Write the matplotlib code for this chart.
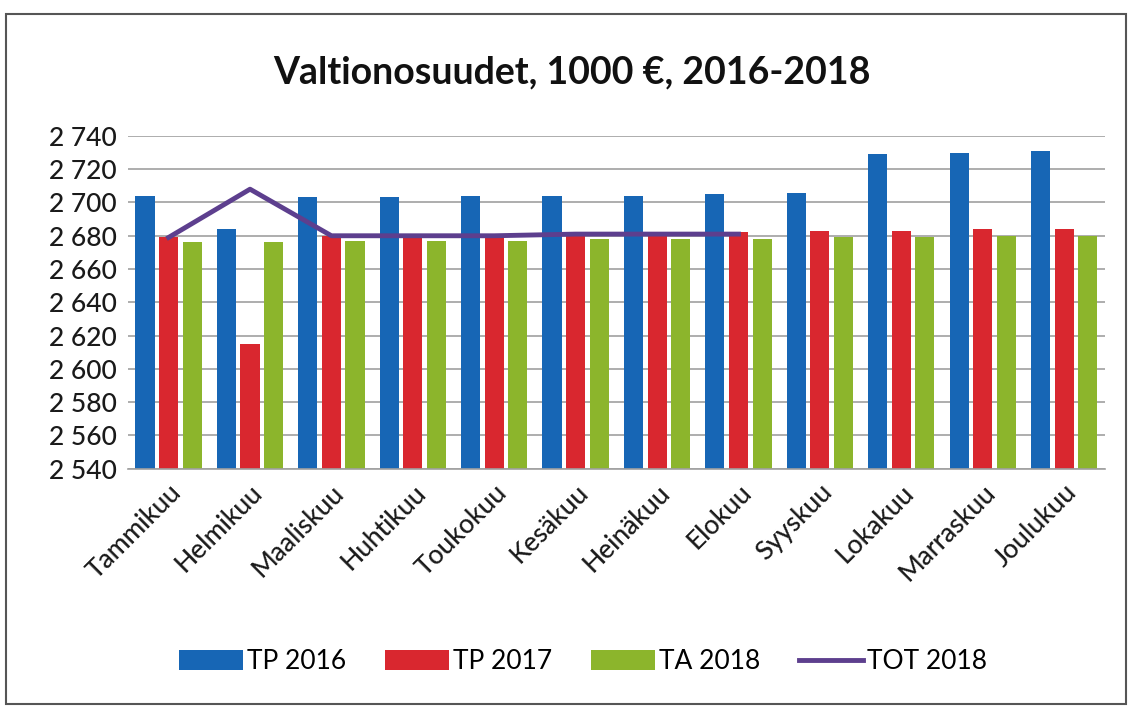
import numpy as np
import matplotlib.pyplot as plt
from matplotlib.patches import Rectangle

months = ['Tammikuu', 'Helmikuu', 'Maaliskuu', 'Huhtikuu', 'Toukokuu', 'Kesäkuu',
          'Heinäkuu', 'Elokuu', 'Syyskuu', 'Lokakuu', 'Marraskuu', 'Joulukuu']
tp2016 = [2704, 2684, 2703, 2703, 2704, 2704, 2704, 2705, 2706, 2729, 2730, 2731]
tp2017 = [2679, 2615, 2680, 2680, 2680, 2681, 2681, 2682, 2683, 2683, 2684, 2684]
ta2018 = [2676, 2676, 2677, 2677, 2677, 2678, 2678, 2678, 2679, 2679, 2680, 2680]
tot2018 = [2679, 2708, 2680, 2680, 2680, 2681, 2681, 2681]
yticks = np.arange(2540, 2741, 20)

plt.rcParams['font.family'] = ['Lato', 'DejaVu Sans']

fig = plt.figure(figsize=(11.32, 7.08), dpi=100)
fig.patches.append(Rectangle((0.005, 0.005), 0.99, 0.975, transform=fig.transFigure,
                             fill=False, edgecolor='#555555', linewidth=1.5))
ax = fig.add_axes([0.113, 0.338, 0.863, 0.47])

x = np.arange(len(months))
w = 0.235
step = 0.29
b1 = ax.bar(x - step, np.array(tp2016) - 2540, w, bottom=2540, color='#1766b5', label='TP 2016', zorder=2)
b2 = ax.bar(x, np.array(tp2017) - 2540, w, bottom=2540, color='#d9272f', label='TP 2017', zorder=2)
b3 = ax.bar(x + step, np.array(ta2018) - 2540, w, bottom=2540, color='#8cb52c', label='TA 2018', zorder=2)
l1, = ax.plot(x[:len(tot2018)], tot2018, color='#5d3f8e', linewidth=3.5, label='TOT 2018', zorder=3)

ax.set_xlim(-0.5, len(months) - 0.5)
ax.set_ylim(2540, 2740)
ax.set_yticks(yticks)
ax.set_yticklabels([f'{v // 1000} {v % 1000:03d}' for v in yticks], fontsize=19,
                   color='#1a1a1a', fontweight='medium')
ax.set_xticks(x)
ax.set_xticklabels(months, rotation=45, ha='right', rotation_mode='anchor', fontsize=19,
                   color='#1a1a1a', fontweight='medium')
ax.tick_params(length=0, pad=8)
ax.yaxis.grid(True, color='#a0a0a0', linewidth=1.2, zorder=0)
ax.set_axisbelow(True)
for s in ['top', 'right', 'left']:
    ax.spines[s].set_visible(False)
ax.spines['bottom'].set_color('#a0a0a0')
ax.spines['bottom'].set_linewidth(1.2)

fig.text(0.505, 0.898, 'Valtionosuudet, 1000 €, 2016-2018', ha='center', va='center',
         fontsize=27, fontweight='bold', color='#111111')

fig.legend([b1, b2, b3, l1], ['TP 2016', 'TP 2017', 'TA 2018', 'TOT 2018'],
           loc='center', bbox_to_anchor=(0.515, 0.065), ncol=4, frameon=False,
           fontsize=19, handlelength=2.4, handleheight=0.8, columnspacing=1.5, handletextpad=0.15)

fig.savefig('out.png', dpi=100)
